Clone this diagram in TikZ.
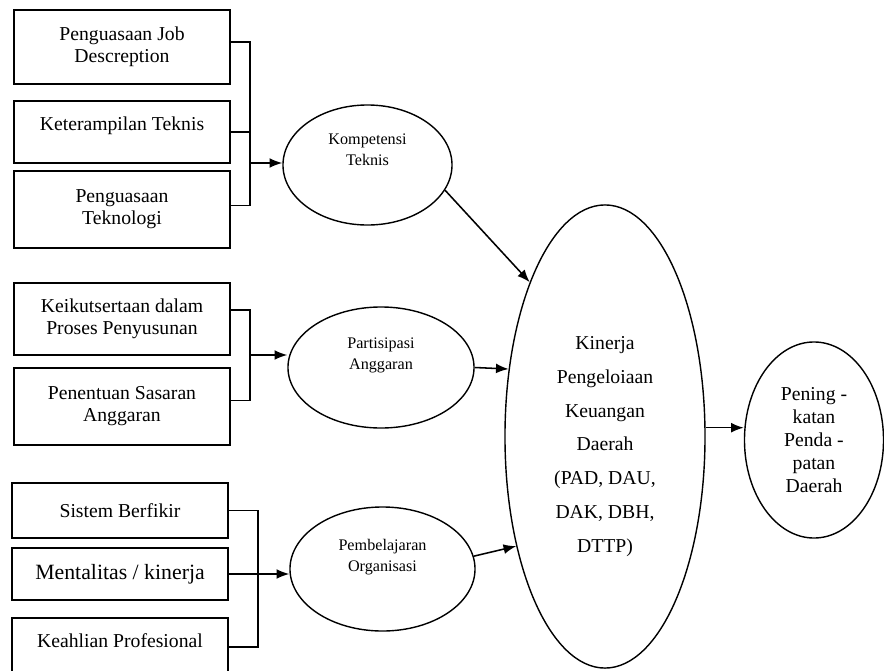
\documentclass[tikz,border=0pt]{standalone}
\usepackage{fontspec}
\setmainfont{Liberation Serif}
\usetikzlibrary{shapes.geometric, arrows.meta}
\tikzstyle{kotak}=[draw, line width=1.2pt, minimum width=5.4cm, align=center, font=\fontsize{14}{15.6}\selectfont]
\tikzstyle{elips}=[draw, ellipse, line width=1pt, inner sep=0pt]
\tikzstyle{kecil}=[align=center, font=\fontsize{11.5}{15}\selectfont]
\tikzstyle{besar}=[align=center, font=\fontsize{14}{24}\selectfont]
\tikzstyle{garis}=[line width=1.2pt]
\tikzstyle{panah}=[line width=1.1pt, -{Latex[length=9pt,width=7pt]}]
\newcommand{\kotak}{\node[kotak]}
\newcommand{\elips}{\node[elips]}

\begin{document}
\begin{tikzpicture}[x=0.025cm, y=-0.025cm]
\useasboundingbox (0,0) rectangle (884,671);
\kotak (b1) at (122,47) [minimum height=1.85cm] {Penguasaan Job\\Descreption};
\kotak (b2) at (122,132) [minimum height=1.55cm, text depth=0.4cm] {Keterampilan Teknis};
\kotak (b3) at (122,209.5) [minimum height=1.925cm] {Penguasaan\\Teknologi};
\kotak (b4) at (122,319) [minimum height=1.8cm] {Keikutsertaan dalam\\Proses Penyusunan};
\kotak (b5) at (122,406.5) [minimum height=1.925cm] {Penentuan Sasaran\\Anggaran};
\kotak (b6) at (120,510.5) [minimum height=1.375cm] {Sistem Berfikir};
\kotak (b7) at (120,574) [minimum height=1.3cm, font=\fontsize{15.5}{18}\selectfont] {Mentalitas / kinerja};
\kotak (b8) at (120,617) [anchor=north, inner ysep=11pt, text depth=1.5cm] {Keahlian Profesional};
\elips (kt) at (367.5,165) [minimum width=4.225cm, minimum height=3cm,
  label={[kecil, yshift=0.375cm]center:{Kompetensi\\Teknis}}] {};
\elips (pa) at (381,367.5) [minimum width=4.65cm, minimum height=3.025cm,
  label={[kecil, yshift=0.3cm]center:{Partisipasi\\Anggaran}}] {};
\elips (pb) at (382.5,569) [minimum width=4.625cm, minimum height=3.1cm,
  label={[kecil, yshift=0.3cm]center:{Pembelajaran\\Organisasi}}] {};
\elips (kin) at (605,436.5) [minimum width=5cm, minimum height=11.575cm,
  label={[besar, yshift=-0.25cm]center:{Kinerja\\Pengeloiaan\\Keuangan\\Daerah\\(PAD, DAU,\\DAK, DBH,\\DTTP)}}] {};
\elips (pk) at (814,440) [minimum width=3.475cm, minimum height=4.9cm,
  label={[align=center, font=\fontsize{14}{16.3}\selectfont]center:{Pening -\\katan\\Penda -\\patan\\Daerah}}] {};
\coordinate (j1) at (250,163);
\coordinate (j2) at (250,355);
\coordinate (j3) at (258,574);
\draw[garis] ([yshift=0.125cm]b1.east) -| (j1) |- ([yshift=0.1cm]b3.east) (b2.east) -- (b2.east -| j1);
\draw[garis] ([yshift=0.225cm]b4.east) -| (j2) |- ([yshift=0.15cm]b5.east);
\draw[garis] (b6.east) -| (j3) |- (b8.base east) (b7.east) -- (j3);
\draw[panah] (j1) -- (j1 -| kt.west);
\draw[panah] (j2) -- (j2 -| pa.west);
\draw[panah] (j3) -- (j3 -| pb.west);
\draw[panah] (kt.-18) -- (kin.116);
\draw[panah] (pa.east) -- (kin.145);
\draw[panah] (pb.8) -- (kin.231);
\draw[panah] (kin.5) -- (kin.5 -| pk.west);
\end{tikzpicture}
\end{document}
